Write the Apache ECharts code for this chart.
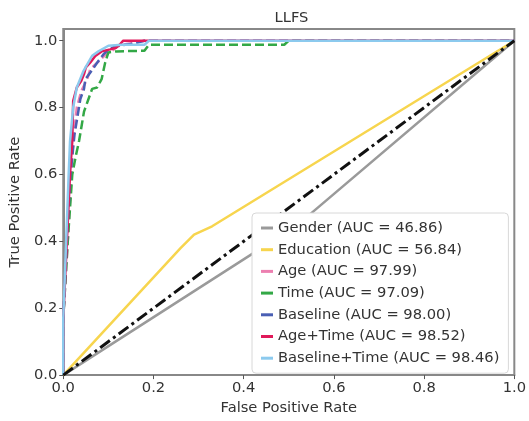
<!DOCTYPE html>
<html>
<head>
<meta charset="utf-8">
<script src="https://cdn.jsdelivr.net/npm/echarts@6/dist/echarts.min.js"></script>
<style>html,body{margin:0;padding:0;background:#fff}#c{width:529px;height:421px}</style>
</head>
<body>
<div id="c"></div>
<script>
var xTicks = [0, 0.2, 0.4, 0.6, 0.8, 1.0];
var yTicks = [0, 0.2, 0.4, 0.6, 0.8, 1.0];
var seriesNames = ['Gender (AUC = 46.86)', 'Education (AUC = 56.84)', 'Age (AUC = 97.99)', 'Time (AUC = 97.09)', 'Baseline (AUC = 98.00)', 'Age+Time (AUC = 98.52)', 'Baseline+Time (AUC = 98.46)'];

var genderFpr = [0, 0.52, 1];
var genderTpr = [0, 0.45, 1];
var educationFpr = [0, 0.26, 0.29, 0.33, 1];
var educationTpr = [0, 0.38, 0.42, 0.445, 1];
var ageFpr = [0, 0, 0.01, 0.018, 0.022, 0.03, 0.04, 0.053, 0.06, 0.08, 0.095, 0.107, 0.12, 0.14, 0.18, 1];
var ageTpr = [0, 0.17, 0.4, 0.6, 0.7, 0.8, 0.85, 0.885, 0.915, 0.94, 0.96, 0.968, 0.983, 0.99, 1, 1];
var timeFpr = [0, 0, 0.01, 0.02, 0.027, 0.035, 0.046, 0.064, 0.075, 0.085, 0.093, 0.1, 0.117, 0.18, 0.19, 0.49, 0.5, 1];
var timeTpr = [0, 0.17, 0.4, 0.6, 0.65, 0.7, 0.788, 0.856, 0.86, 0.885, 0.935, 0.965, 0.968, 0.97, 0.988, 0.988, 1, 1];
var baselineFpr = [0, 0, 0.008, 0.016, 0.025, 0.038, 0.046, 0.049, 0.06, 0.075, 0.089, 0.1, 0.12, 0.15, 0.18, 1];
var baselineTpr = [0, 0.17, 0.4, 0.6, 0.72, 0.826, 0.856, 0.885, 0.905, 0.934, 0.959, 0.974, 0.985, 0.99, 1, 1];
var ageTimeFpr = [0, 0, 0.008, 0.015, 0.02, 0.022, 0.03, 0.04, 0.046, 0.05, 0.06, 0.071, 0.085, 0.104, 0.117, 0.125, 0.133, 1];
var ageTimeTpr = [0, 0.17, 0.4, 0.6, 0.7, 0.82, 0.86, 0.88, 0.9, 0.92, 0.935, 0.954, 0.968, 0.974, 0.979, 0.988, 1, 1];
var baseTimeFpr = [0, 0, 0.005, 0.012, 0.015, 0.022, 0.03, 0.045, 0.064, 0.078, 0.1, 0.13, 0.18, 0.19, 1];
var baseTimeTpr = [0, 0.17, 0.35, 0.6, 0.7, 0.8, 0.86, 0.91, 0.955, 0.968, 0.985, 0.988, 0.988, 1, 1];
var diagFpr = [0, 1];
var diagTpr = [0, 1];

function pts(xs, ys) { return xs.map(function (x, i) { return [x, ys[i]]; }); }

var styles = [
  {c: '#9a9a9a', t: 'solid', w: 2.5},
  {c: '#f7d54e', t: 'solid', w: 2.5},
  {c: '#ec7fb0', t: [9, 4], w: 2.5},
  {c: '#33a846', t: [9, 4], w: 2.5},
  {c: '#4a5fb4', t: [9, 4], w: 2.5},
  {c: '#e0195a', t: 'solid', w: 2.5},
  {c: '#8ccaee', t: 'solid', w: 2.5}
];
var dataSets = [pts(genderFpr, genderTpr), pts(educationFpr, educationTpr), pts(ageFpr, ageTpr), pts(timeFpr, timeTpr), pts(baselineFpr, baselineTpr), pts(ageTimeFpr, ageTimeTpr), pts(baseTimeFpr, baseTimeTpr)];

var series = seriesNames.map(function (n, i) {
  return {
    name: n, type: 'line', data: dataSets[i], showSymbol: false, symbol: 'none',
    itemStyle: {color: styles[i].c},
    lineStyle: {color: styles[i].c, width: styles[i].w, type: styles[i].t},
    animation: false
  };
});
series.push({
  name: 'diag', type: 'line', data: pts(diagFpr, diagTpr), showSymbol: false, symbol: 'none',
  lineStyle: {color: '#111', width: 3, type: [12, 4, 3, 4]}, itemStyle: {color: '#111'}, animation: false
});

var font = 'DejaVu Sans';
var fs = 14.7;
var chart = echarts.init(document.getElementById('c'));
chart.setOption({
  animation: false,
  backgroundColor: '#fff',
  title: {text: 'LLFS', left: 286.5, textAlign: 'center', top: 6, textStyle: {fontFamily: font, fontSize: fs, fontWeight: 'normal', color: '#333'}},
  grid: {left: 56, right: 12, top: 29, bottom: 40, show: true, borderColor: '#888', borderWidth: 2, backgroundColor: 'transparent'},
  legend: {
    data: seriesNames, orient: 'vertical', left: 252, top: 213, icon: 'rect', itemWidth: 12, itemHeight: 3,
    itemGap: 3.7, padding: [6, 9, 6, 9], backgroundColor: '#fff', borderColor: '#d8d8d8', borderWidth: 1, borderRadius: 4,
    textStyle: {fontFamily: font, fontSize: fs, color: '#333', lineHeight: 18}, itemStyle: {borderWidth: 0},
    selectedMode: false
  },
  xAxis: {
    type: 'value', min: 0, max: 1, interval: 0.2, z: 3,
    name: 'False Positive Rate', nameLocation: 'middle', nameGap: 21,
    nameTextStyle: {fontFamily: font, fontSize: fs, color: '#333'},
    axisLine: {show: true, lineStyle: {color: '#888', width: 2}},
    axisTick: {show: true, length: 4, lineStyle: {color: '#555'}},
    axisLabel: {fontFamily: font, fontSize: fs, color: '#333', margin: 6, formatter: function (v) { return v.toFixed(1); }, customValues: xTicks},
    splitLine: {show: false}
  },
  yAxis: {
    type: 'value', min: 0, max: 1.035, interval: 0.2, z: 3,
    name: 'True Positive Rate', nameLocation: 'middle', nameGap: 31,
    nameTextStyle: {fontFamily: font, fontSize: fs, color: '#333'},
    axisLine: {show: true, lineStyle: {color: '#888', width: 2}},
    axisTick: {show: true, length: 4, lineStyle: {color: '#555'}, customValues: yTicks},
    axisLabel: {fontFamily: font, fontSize: fs, color: '#333', margin: 6, formatter: function (v) { return v.toFixed(1); }, customValues: yTicks},
    splitLine: {show: false}
  },
  series: series
});
</script>
</body>
</html>
